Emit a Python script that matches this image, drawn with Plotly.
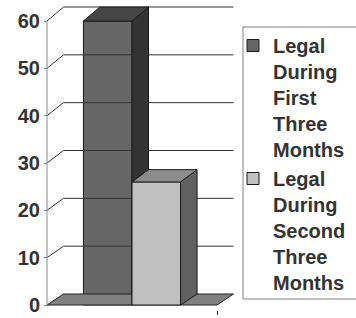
import plotly.graph_objects as go

# ---- data ----
series_names = ["Legal<br>During<br>First<br>Three<br>Months",
                "Legal<br>During<br>Second<br>Three<br>Months"]
values = [60, 26]
y_ticks = [0, 10, 20, 30, 40, 50, 60]
tick_labels = ["0", "10", "20", "30", "40", "50", "60"]

# ---- styles ----
front_colors = ["#666666", "#c0c0c0"]
top_colors = ["#464646", "#8c8c8c"]
side_colors = ["#333333", "#606060"]
edge = "#1a1a1a"
FONT = "Arial, 'Liberation Sans', sans-serif"

W, H = 356, 318
ML, MR, MT, MB = 44, 120, 0, 8
PX_X = 48.57      # px per x unit
PX_Y = 4.733      # px per value unit
AXIS_PX = 47      # front axis pixel x
FLOOR_PX = 305    # front floor pixel y
HALF = 1.75       # floor half width (x units)
BW = 1.0          # bar width
DX = 16.5 / PX_X  # depth offset x
BACK_OFF = 11 / PX_Y
BACK_K = 1.0106

def back(v):
    return BACK_OFF + v * BACK_K

x0 = -HALF - (AXIS_PX - ML) / PX_X
x1 = x0 + (W - ML - MR) / PX_X
y0 = -(H - MB - FLOOR_PX) / PX_Y
y1 = y0 + (H - MT - MB) / PX_Y

fig = go.Figure()

# floor
fx = [-HALF, HALF, HALF + DX, -HALF + DX, -HALF]
fy = [0, 0, back(0), back(0), 0]
fig.add_trace(go.Scatter(x=fx, y=fy, fill="toself", fillcolor="#808080",
                         mode="lines", line=dict(color="#222222", width=1),
                         showlegend=False, hoverinfo="skip"))

# gridlines on back wall and left wall diagonals
gx, gy = [], []
for v in y_ticks[1:]:
    gx += [-HALF, -HALF + DX, HALF + DX, None]
    gy += [v, back(v), back(v), None]
fig.add_trace(go.Scatter(x=gx, y=gy, mode="lines", line=dict(color="#333333", width=1),
                         showlegend=False, hoverinfo="skip"))
# front value axis line
fig.add_trace(go.Scatter(x=[-HALF, -HALF], y=[0, y_ticks[-1]], mode="lines",
                         line=dict(color="#8a8a8a", width=1),
                         showlegend=False, hoverinfo="skip"))

for i, (name, v) in enumerate(zip(series_names, values)):
    xa = "x" if i == 0 else "x2"
    ya = "y" if i == 0 else "y2"
    left = -BW + i * BW
    right = left + BW
    fig.add_trace(go.Bar(x=[left + BW / 2], y=[v], width=[BW], name=name,
                         marker=dict(color=front_colors[i], line=dict(color=edge, width=1)),
                         xaxis=xa, yaxis=ya, hoverinfo="skip"))
    # side face
    fig.add_trace(go.Scatter(x=[right, right, right + DX, right + DX, right],
                             y=[0, v, back(v), back(0), 0],
                             fill="toself", fillcolor=side_colors[i], mode="lines",
                             line=dict(color=edge, width=1), showlegend=False,
                             xaxis=xa, yaxis=ya, hoverinfo="skip"))
    # top face
    fig.add_trace(go.Scatter(x=[left, right, right + DX, left + DX, left],
                             y=[v, v, back(v), back(v), v],
                             fill="toself", fillcolor=top_colors[i], mode="lines",
                             line=dict(color=edge, width=1), showlegend=False,
                             xaxis=xa, yaxis=ya, hoverinfo="skip"))

plot_w = W - ML - MR
plot_h = H - MT - MB

fig.update_layout(
    width=W, height=H,
    margin=dict(l=ML, r=MR, t=MT, b=MB, pad=0),
    paper_bgcolor="white", plot_bgcolor="white",
    barmode="overlay",
    showlegend=True,
    xaxis=dict(range=[x0, x1], showgrid=False, zeroline=False, showline=False,
               tickvals=[HALF], ticks="outside", ticklen=4, tickcolor="#333333",
               showticklabels=False, fixedrange=True),
    yaxis=dict(range=[y0, y1], showgrid=False, zeroline=False, showline=False,
               anchor="free", position=(AXIS_PX - ML) / plot_w,
               tickvals=y_ticks, ticktext=tick_labels, ticks="outside", ticklen=3,
               tickcolor="#8a8a8a",
               tickfont=dict(family=FONT, size=20, color="#333333", weight="bold"),
               fixedrange=True),
    xaxis2=dict(range=[x0, x1], overlaying="x", visible=False, fixedrange=True),
    yaxis2=dict(range=[y0, y1], overlaying="y", visible=False, fixedrange=True),
    legend=dict(x=(233 - ML) / plot_w, xanchor="left", y=1 - (26 - MT) / plot_h, yanchor="top",
                bgcolor="rgba(0,0,0,0)", borderwidth=0, valign="top",
                font=dict(family=FONT, size=20, color="#333333", weight="bold"),
                itemclick=False, itemdoubleclick=False),
    shapes=[dict(type="rect", xref="paper", yref="paper",
                 x0=(243 - ML) / plot_w, x1=(W + 5 - ML) / plot_w,
                 y0=1 - (299 - MT) / plot_h, y1=1 - (27 - MT) / plot_h,
                 line=dict(color="#808080", width=1), fillcolor="rgba(0,0,0,0)")],
)

fig.write_html("out.html", config={"displayModeBar": False},
               post_script="document.body.style.margin='0';")
